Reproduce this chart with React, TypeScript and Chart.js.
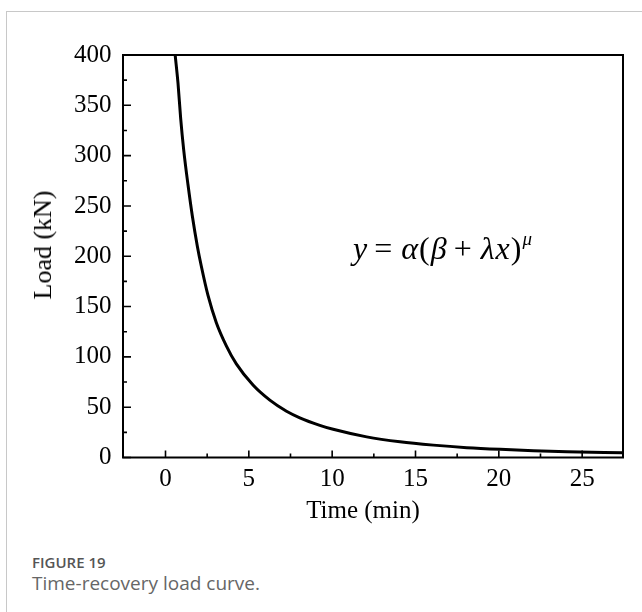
import React, { useEffect, useRef } from 'react';
import { Chart, registerables } from 'chart.js';

Chart.register(...registerables);

// Data
const timeMin = [0.58, 0.75, 0.91, 1.09, 1.35, 1.61, 1.91, 2.15, 2.55, 3.05, 3.65, 4.25, 5.25, 6.26, 7.26, 8.06, 9.26, 10.06, 12.07, 14.07, 16.07, 18.08, 20.08, 22.08, 24.09, 27.45];
const loadKN = [400, 372, 337, 306, 271, 240, 210, 190, 161, 134, 111, 93, 72, 57, 46, 39.5, 32, 28, 20.5, 15.6, 12.3, 9.8, 8.1, 6.8, 5.8, 4.6];

const xMajorTicks = [0, 5, 10, 15, 20, 25];
const xMinorTicks = [2.5, 7.5, 12.5, 17.5, 22.5];
const yMajorTicks = [0, 50, 100, 150, 200, 250, 300, 350, 400];
const yMinorTicks = [25, 75, 125, 175, 225, 275, 325, 375];

const X_MIN = -2.55;
const X_MAX = 27.45;
const Y_MIN = 0;
const Y_MAX = 400;

const SERIF = "'Liberation Serif', 'Times New Roman', serif";

const frameTicks = {
  id: 'frameTicks',
  afterDraw(chart: any) {
    const { ctx, chartArea: a, scales } = chart;
    ctx.save();
    ctx.strokeStyle = '#000';
    ctx.lineWidth = 2;
    ctx.strokeRect(a.left, a.top, a.right - a.left, a.bottom - a.top);
    ctx.lineWidth = 1.6;
    ctx.beginPath();
    xMajorTicks.forEach((v) => {
      const p = scales.x.getPixelForValue(v);
      ctx.moveTo(p, a.bottom);
      ctx.lineTo(p, a.bottom - 7);
    });
    xMinorTicks.forEach((v) => {
      const p = scales.x.getPixelForValue(v);
      ctx.moveTo(p, a.bottom);
      ctx.lineTo(p, a.bottom - 4);
    });
    yMajorTicks.forEach((v) => {
      const p = scales.y.getPixelForValue(v);
      ctx.moveTo(a.left, p);
      ctx.lineTo(a.left + 8, p);
    });
    yMinorTicks.forEach((v) => {
      const p = scales.y.getPixelForValue(v);
      ctx.moveTo(a.left, p);
      ctx.lineTo(a.left + 4, p);
    });
    ctx.stroke();
    ctx.restore();
  },
};

export default function App() {
  const canvasRef = useRef<HTMLCanvasElement | null>(null);

  useEffect(() => {
    if (!canvasRef.current) return;
    const chart = new Chart(canvasRef.current, {
      type: 'scatter',
      data: {
        datasets: [
          {
            data: timeMin.map((t, i) => ({ x: t, y: loadKN[i] })),
            showLine: true,
            borderColor: '#000',
            borderWidth: 3,
            pointRadius: 0,
            cubicInterpolationMode: 'monotone',
            fill: false,
          },
        ],
      },
      options: {
        animation: false,
        responsive: false,
        maintainAspectRatio: false,
        layout: { padding: { top: 55, right: 19, left: 0, bottom: 0 } },
        plugins: { legend: { display: false }, tooltip: { enabled: false } },
        scales: {
          x: {
            type: 'linear',
            min: X_MIN,
            max: X_MAX,
            grid: { display: false, drawTicks: false },
            border: { display: false },
            afterBuildTicks: (s: any) => {
              s.ticks = xMajorTicks.map((v) => ({ value: v }));
            },
            afterFit: (s: any) => {
              s.height = 82.5;
            },
            ticks: {
              color: '#000',
              font: { family: SERIF, size: 25 },
              padding: 7,
              maxRotation: 0,
              autoSkip: false,
            },
          },
          y: {
            type: 'linear',
            min: Y_MIN,
            max: Y_MAX,
            grid: { display: false, drawTicks: false },
            border: { display: false },
            afterBuildTicks: (s: any) => {
              s.ticks = yMajorTicks.map((v) => ({ value: v }));
            },
            afterFit: (s: any) => {
              s.width = 123;
            },
            ticks: {
              color: '#000',
              font: { family: SERIF, size: 25 },
              padding: 11.5,
              autoSkip: false,
            },
          },
        },
      },
      plugins: [frameTicks],
    } as any);
    return () => chart.destroy();
  }, []);

  return (
    <div style={{ position: 'fixed', left: 0, top: 0, width: 642, height: 612, overflow: 'hidden', background: '#fff' }}>
      <div style={{ position: 'absolute', left: 6, top: 11, width: 800, height: 800, border: '1px solid #c8c8c8', boxSizing: 'border-box' }} />
      <canvas ref={canvasRef} width={642} height={540} style={{ position: 'absolute', left: 0, top: 0, width: 642, height: 540 }} />
      <div
        style={{
          position: 'absolute',
          left: 43,
          top: 245,
          transform: 'translate(-50%, -50%) rotate(-90deg)',
          fontFamily: SERIF,
          fontSize: 26,
          whiteSpace: 'nowrap',
          color: '#000',
          lineHeight: 1,
        }}
      >
        Load (kN)
      </div>
      <div
        style={{
          position: 'absolute',
          left: 363,
          top: 509,
          transform: 'translate(-50%, -50%)',
          fontFamily: SERIF,
          fontSize: 25,
          whiteSpace: 'nowrap',
          color: '#000',
          lineHeight: 1,
        }}
      >
        Time (min)
      </div>
      <div
        style={{
          position: 'absolute',
          left: 353,
          top: 232,
          fontFamily: SERIF,
          fontSize: 32,
          whiteSpace: 'nowrap',
          color: '#000',
          lineHeight: 1,
          letterSpacing: 1,
        }}
      >
        <i>y</i>
        <span style={{ margin: '0 8px 0 6px' }}>=</span>
        <i>α</i>
        <span>(</span>
        <i>β</i>
        <span style={{ margin: '0 8px 0 6px' }}>+</span>
        <i>λ</i>
        <i>x</i>
        <span>)</span>
        <i style={{ fontSize: 19, position: 'relative', top: -14 }}>μ</i>
      </div>
      <div
        style={{
          position: 'absolute',
          left: 32,
          top: 555,
          fontFamily: "'Open Sans', sans-serif",
          fontWeight: 600,
          fontSize: 15,
          color: '#555',
          lineHeight: 1,
          whiteSpace: 'nowrap',
        }}
      >
        FIGURE 19
      </div>
      <div
        style={{
          position: 'absolute',
          left: 32,
          top: 573,
          fontFamily: "'Open Sans', sans-serif",
          fontSize: 19,
          color: '#666',
          lineHeight: 1.1,
          whiteSpace: 'nowrap',
        }}
      >
        Time-recovery load curve.
      </div>
    </div>
  );
}
